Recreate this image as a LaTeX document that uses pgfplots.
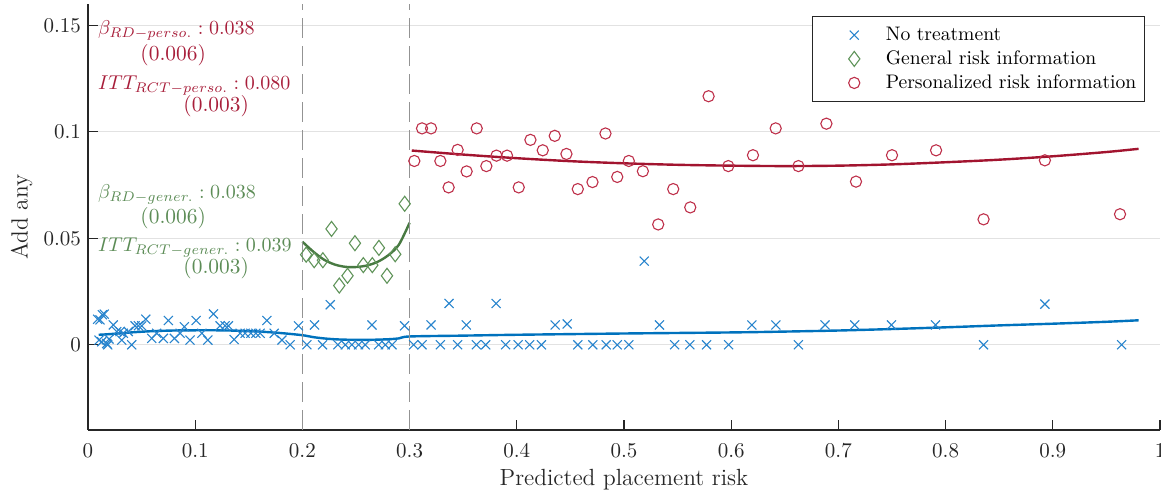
\documentclass[border=0pt]{standalone}
\usepackage{pgfplots}
\pgfplotsset{compat=1.18}
\definecolor{bluL}{RGB}{0,114,189}
\definecolor{bluM}{RGB}{40,132,205}
\definecolor{redL}{RGB}{162,20,47}
\definecolor{redM}{RGB}{190,48,74}
\definecolor{grnL}{RGB}{72,122,66}
\definecolor{grnM}{RGB}{96,148,90}
\definecolor{redT}{RGB}{168,30,58}
\definecolor{grnT}{RGB}{92,140,86}
\definecolor{axc}{RGB}{38,38,38}
\definecolor{gridc}{RGB}{226,226,226}
\pgfplotsset{mylegend/.style={legend image code/.code={\path (0pt,0pt) (32pt,0pt); \draw[##1] plot coordinates {(18.5pt,0pt)};}}}
\begin{document}
\begin{tikzpicture}
\begin{axis}[name=ax, scale only axis, width=536pt, height=213pt,
  xmin=0, xmax=1, ymin=-0.04, ymax=0.16,
  axis x line*=bottom, axis y line*=left,
  axis line style={axc, line width=0.6pt},
  xtick={0,0.1,0.2,0.3,0.4,0.5,0.6,0.7,0.8,0.9,1},
  xticklabels={0,0.1,0.2,0.3,0.4,0.5,0.6,0.7,0.8,0.9,1},
  ytick={0,0.05,0.1,0.15}, yticklabels={0,0.05,0.1,0.15},
  tick align=inside, major tick length=5pt, tick style={axc, line width=0.6pt},
  ymajorgrids, grid style={gridc, line width=0.6pt},
  ticklabel style={font=\fontsize{10.5}{12}\selectfont, text=axc},
  xticklabel style={yshift=-3pt},
  xlabel={Predicted placement risk}, ylabel={Add any},
  label style={font=\fontsize{11.7}{14}\selectfont, text=axc},
  xlabel style={at={(axis description cs:0.5,-0.117)}, anchor=center},
  ylabel style={at={(axis description cs:-0.062,0.5)}, anchor=center},
  legend style={at={(0.986,0.972)}, anchor=north east, draw=axc, line width=0.6pt,
    font=\fontsize{9.8}{11}\selectfont, inner xsep=2pt, inner ysep=3.4pt,
    nodes={inner ysep=1.8pt}},
  legend cell align=left,
]
\addplot[only marks, mark=x, mark size=3.2pt, bluM, line width=0.55pt, mylegend]
coordinates {
(0.009,0.0120) (0.0112,0.0117) (0.0134,0.0141) (0.0152,0.0144) (0.0103,0.0022) (0.0128,0.0014)
(0.0175,0.0006) (0.0196,0.0027) (0.0184,0) (0.0236,0.0093) (0.0268,0.0062) (0.0299,0.0062)
(0.0330,0.0054) (0.0376,0.0062) (0.0315,0.0022) (0.0408,0) (0.0439,0.0089) (0.0470,0.0089)
(0.0501,0.0089) (0.0539,0.0120) (0.0595,0.0030) (0.0641,0.0054) (0.0703,0.0030) (0.0750,0.0114)
(0.0806,0.0030) (0.0859,0.0054) (0.0899,0.0085) (0.0952,0.0022) (0.1008,0.0114) (0.1062,0.0054)
(0.1118,0.0022) (0.1170,0.0145) (0.1232,0.0089) (0.1279,0.0089) (0.1310,0.0089) (0.1363,0.0025)
(0.1419,0.0054) (0.1466,0.0054) (0.1519,0.0054) (0.1566,0.0054) (0.1606,0.0054) (0.1669,0.0114)
(0.1737,0.0054) (0.1809,0.0022) (0.1886,0) (0.1964,0.0089) (0.2042,0) (0.2113,0.0093)
(0.2188,0) (0.2260,0.0188) (0.2331,0) (0.2400,0) (0.2462,0) (0.2524,0) (0.2586,0)
(0.2649,0.0093) (0.2711,0) (0.2773,0) (0.2836,0) (0.2953,0.0089)
(0.3037,0) (0.3116,0) (0.3200,0.0093) (0.3287,0) (0.3368,0.0194) (0.3448,0) (0.3529,0.0093)
(0.3623,0) (0.3710,0) (0.3807,0.0194) (0.3896,0) (0.4012,0) (0.4120,0) (0.4230,0)
(0.4358,0.0093) (0.4470,0.0098) (0.4569,0) (0.4709,0) (0.4834,0) (0.4937,0) (0.5045,0)
(0.5189,0.0393) (0.5331,0.0093) (0.5472,0) (0.5614,0) (0.5770,0) (0.5976,0) (0.6193,0.0093)
(0.6417,0.0093) (0.6627,0) (0.6875,0.0093) (0.7152,0.0093) (0.7495,0.0093) (0.7906,0.0093)
(0.8354,0) (0.8926,0.0191) (0.9642,0)
};
\addlegendentry{No treatment}
\addplot[only marks, mark=diamond, mark size=3.75pt, grnM, line width=0.55pt, mylegend]
coordinates {
(0.2035,0.0423) (0.2110,0.0397) (0.2191,0.0397) (0.2272,0.0544) (0.2344,0.0278) (0.2421,0.0324)
(0.2490,0.0477) (0.2568,0.0374) (0.2652,0.0374) (0.2714,0.0455) (0.2789,0.0324) (0.2866,0.0425)
(0.2954,0.0662)
};
\addlegendentry{General risk information}
\addplot[only marks, mark=o, mark size=2.8pt, redM, line width=0.55pt, mylegend]
coordinates {
(0.3044,0.0863) (0.3116,0.1016) (0.3200,0.1016) (0.3287,0.0863) (0.3364,0.0739) (0.3448,0.0915)
(0.3532,0.0814) (0.3626,0.1016) (0.3716,0.0839) (0.3810,0.0888) (0.3909,0.0888) (0.4018,0.0739)
(0.4127,0.0962) (0.4242,0.0913) (0.4354,0.0981) (0.4463,0.0896) (0.4569,0.0731) (0.4706,0.0764)
(0.4827,0.0992) (0.4937,0.0788) (0.5045,0.0863) (0.5176,0.0815) (0.5319,0.0565) (0.5459,0.0731)
(0.5618,0.0645) (0.5789,0.1167) (0.5973,0.0839) (0.6203,0.0890) (0.6415,0.1016) (0.6627,0.0839)
(0.6888,0.1038) (0.7164,0.0766) (0.7500,0.0890) (0.7911,0.0913) (0.8354,0.0589) (0.8926,0.0866)
(0.9627,0.0613)
};
\addlegendentry{Personalized risk information}
% fitted curves
\addplot[forget plot, bluL, line width=1.2pt, smooth] coordinates {
(0.01,0.0047) (0.02,0.0050) (0.04,0.0058) (0.06,0.0064) (0.08,0.0067) (0.10,0.0068) (0.12,0.0068)
(0.14,0.0066) (0.16,0.0062) (0.18,0.0055) (0.20,0.0045) (0.21,0.0036) (0.22,0.0030) (0.23,0.0026)
(0.24,0.0024) (0.26,0.0023) (0.28,0.0026) (0.29,0.0030) (0.30,0.0039) (0.35,0.0043) (0.40,0.0047)
(0.50,0.0053) (0.60,0.0058) (0.65,0.0062) (0.70,0.0067) (0.75,0.0074) (0.80,0.0082) (0.85,0.0091)
(0.90,0.0099) (0.95,0.0108) (0.98,0.0115)
};
\addplot[forget plot, grnL, line width=1.2pt, smooth] coordinates {
(0.20,0.0484) (0.21,0.0438) (0.22,0.0400) (0.23,0.0377) (0.24,0.0366) (0.25,0.0365) (0.26,0.0372)
(0.27,0.0389) (0.28,0.0420) (0.29,0.0470) (0.30,0.0573)
};
\addplot[forget plot, redL, line width=1.2pt, smooth] coordinates {
(0.302,0.0912) (0.35,0.0893) (0.40,0.0876) (0.45,0.0862) (0.50,0.0852) (0.55,0.0845) (0.60,0.0841)
(0.65,0.0839) (0.70,0.0841) (0.75,0.0847) (0.80,0.0857) (0.85,0.0869) (0.90,0.0885) (0.95,0.0905)
(0.98,0.0920)
};
% cutoffs
\addplot[forget plot, gray!85, line width=0.6pt, dash pattern=on 10pt off 4pt] coordinates {(0.2,-0.04) (0.2,0.16)};
\addplot[forget plot, gray!85, line width=0.6pt, dash pattern=on 10pt off 4pt] coordinates {(0.3,-0.04) (0.3,0.16)};
% annotations
\node[anchor=base west, inner sep=0pt, text=redT, font=\fontsize{10.1}{12}\selectfont] at (axis cs:0.009,0.1455) {$\beta_{RD-perso.}: 0.038$};
\node[anchor=base west, inner sep=0pt, text=redT, font=\fontsize{10.7}{12}\selectfont] at (axis cs:0.0486,0.1333) {(0.006)};
\node[anchor=base west, inner sep=0pt, text=redT, font=\fontsize{10.1}{12}\selectfont] at (axis cs:0.009,0.1199) {$ITT_{RCT-perso.}: 0.080$};
\node[anchor=base west, inner sep=0pt, text=redT, font=\fontsize{10.7}{12}\selectfont] at (axis cs:0.0887,0.1096) {(0.003)};
\node[anchor=base west, inner sep=0pt, text=grnT, font=\fontsize{10.1}{12}\selectfont] at (axis cs:0.009,0.0689) {$\beta_{RD-gener.}: 0.038$};
\node[anchor=base west, inner sep=0pt, text=grnT, font=\fontsize{10.7}{12}\selectfont] at (axis cs:0.0486,0.0571) {(0.006)};
\node[anchor=base west, inner sep=0pt, text=grnT, font=\fontsize{10.1}{12}\selectfont] at (axis cs:0.009,0.0437) {$ITT_{RCT-gener.}: 0.039$};
\node[anchor=base west, inner sep=0pt, text=grnT, font=\fontsize{10.7}{12}\selectfont] at (axis cs:0.0887,0.0335) {(0.003)};
\end{axis}
\pgfresetboundingbox
\path ([xshift=-44pt,yshift=-32pt]ax.south west) rectangle ([xshift=0.5pt,yshift=2pt]ax.north east);
\end{tikzpicture}
\end{document}
